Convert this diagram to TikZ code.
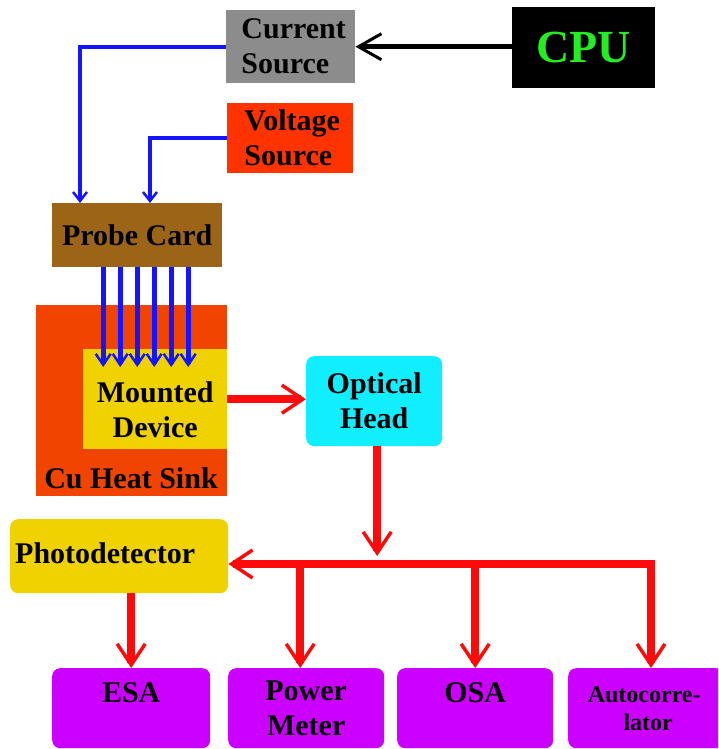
\documentclass[tikz,border=0pt]{standalone}
\usepackage{fontspec}
\setmainfont{Liberation Serif}
\usetikzlibrary{arrows.meta,calc}
\definecolor{csgray}{HTML}{8C8C8C}
\definecolor{cpugreen}{HTML}{22EE22}
\definecolor{vsred}{HTML}{FF3300}
\definecolor{pcbrown}{HTML}{9C6417}
\definecolor{hsorange}{HTML}{F04400}
\definecolor{mdyellow}{HTML}{F0D200}
\definecolor{ohcyan}{HTML}{11EEFF}
\definecolor{boxpurple}{HTML}{CC00FF}
\definecolor{linered}{HTML}{FF0A0A}
\definecolor{lineblue}{HTML}{1414FF}
\begin{document}
\begin{tikzpicture}[x=1pt,y=-1pt,
  every node/.style={font=\bfseries\fontsize{30}{35}\selectfont, inner sep=0pt, align=center},
  box/.style={anchor=north west, draw=none},
  rbox/.style={box, rounded corners=8pt},
  bline/.style={draw=lineblue, line width=4pt, -{Straight Barb[length=9pt,width=14pt,line width=2.5pt]}},
  pline/.style={draw=lineblue, line width=5pt, -{Straight Barb[length=11pt,width=15pt,line width=2.5pt]}},
  redtip/.tip={Straight Barb[length=21pt,width=28pt,line width=3.5pt]},
  rline/.style={draw=linered, line width=7.5pt, line join=miter},
  kline/.style={draw=black, line width=5pt, -{Straight Barb[length=23pt,width=26pt,line width=3pt]}}]
\clip (0,0) rectangle (718,749);
\fill[white] (0,0) rectangle (718,749);
% top
\node[box, fill=csgray, minimum width=129pt, minimum height=73pt, align=left,
      label={[xshift=3pt,align=left]center:Current\\Source}] (cs) at (226,10) {};
\node[box, fill=black, minimum width=143pt, minimum height=81pt, text=cpugreen, font=\bfseries\fontsize{46}{50}\selectfont] (cpu) at (512,7) {CPU};
\node[box, fill=vsred, minimum width=126pt, minimum height=70pt,
      label={[xshift=2pt,align=left]center:Voltage\\Source}] (vs) at (227,103) {};
\node[box, fill=pcbrown, minimum width=170pt, minimum height=64pt] (pc) at (52,203) {Probe Card};
% heat sink and device
\node[box, fill=hsorange, minimum width=191pt, minimum height=191pt] (hs) at (36,305) {};
\node (hstext) at (131,478) {Cu Heat Sink};
\node[box, fill=mdyellow, minimum width=144pt, minimum height=100pt,
      label={[yshift=-11pt]center:Mounted\\Device}] (md) at (83,349) {};
\node[rbox, fill=ohcyan, minimum width=136pt, minimum height=90pt] (oh) at (306,356) {Optical\\Head};
% photodetector and instruments
\node[rbox, fill=mdyellow, minimum width=218pt, minimum height=74pt,
      label={[xshift=-14pt,yshift=3pt]center:Photodetector}] (pd) at (10,519) {};
\node[rbox, fill=boxpurple, minimum width=158pt, minimum height=80pt,
      label={[yshift=15pt]center:ESA}] (esa) at (52,668) {};
\node[rbox, fill=boxpurple, minimum width=156pt, minimum height=80pt] (pm) at (228,668) {Power\\Meter};
\node[rbox, fill=boxpurple, minimum width=156pt, minimum height=80pt,
      label={[yshift=15pt]center:OSA}] (osa) at (397,668) {};
\node[rbox, fill=boxpurple, minimum width=156pt, minimum height=80pt,
      font=\bfseries\fontsize{24}{28}\selectfont] (ac) at (568,668) {\hspace*{-4pt}Autocorre-\\lator\hspace*{-4pt}};
\coordinate (bus) at (651,564);
% connectors
\draw[kline] (cpu.west |- cs.east) -- (cs.east);
\draw[bline] (cs.west) -| ([xshift=28pt]pc.north west);
\draw[bline] (vs.west) -| ([xshift=98pt]pc.north west);
\foreach \d in {-34,-17,0,17,34,51}
  \draw[pline] ($(pc.south)+(\d,0)$) -- ($(pc.south |- md.north)+(\d,18)$);
\draw[rline, -{redtip}] (md.east) -- (md.east -| oh.west);
\draw[rline, -{redtip}, shorten >=8pt] ([xshift=3pt]oh.south) -- ([xshift=3pt]oh.south |- bus);
\draw[rline, {redtip}-{redtip}] (ac.north -| bus) -- (bus) -- (pd.east |- bus);
\draw[rline, -{redtip}] ([xshift=-6pt]pm.north |- bus) -- ([xshift=-6pt]pm.north);
\draw[rline, -{redtip}] (osa.north |- bus) -- (osa.north);
\draw[rline, -{redtip}] (pd.south -| esa.north) -- (esa.north);
\end{tikzpicture}
\end{document}
